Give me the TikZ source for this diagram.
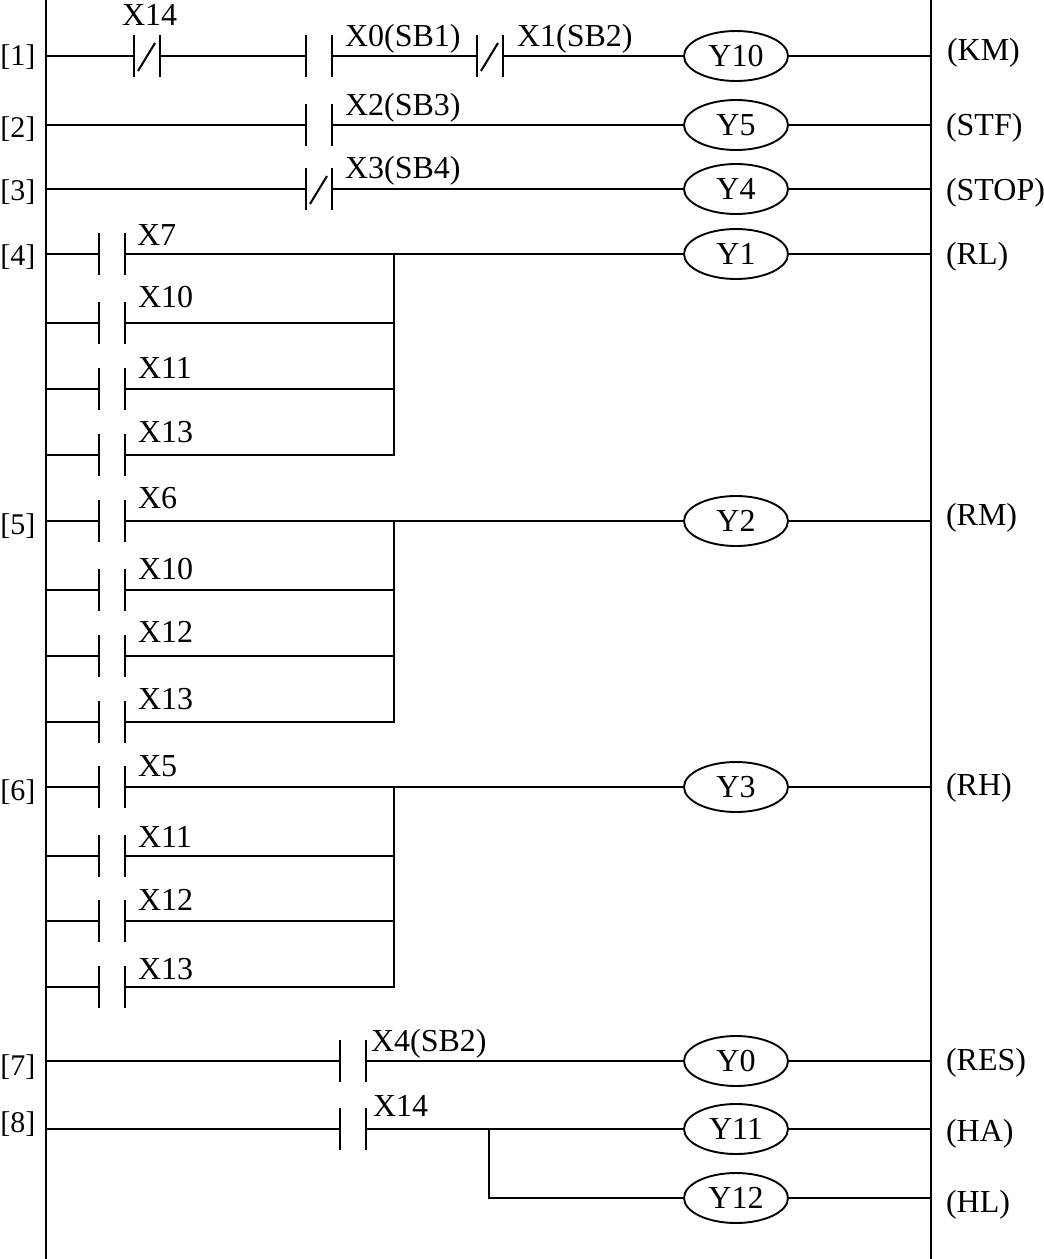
\documentclass[tikz,border=0pt]{standalone}
\usepackage{fontspec}
\setmainfont{Liberation Serif}
\usetikzlibrary{shapes.geometric}
\tikzset{
  wire/.style={line width=1.7pt,line cap=butt},
  rail/.style={line width=2.2pt},
  plate/.style={line width=1.7pt},
  coil/.style={draw,ellipse,line width=1.9pt,minimum width=104pt,minimum height=50pt,inner sep=0pt,outer sep=0pt,fill=white},
  lab/.style={anchor=base west,inner sep=0pt,outer sep=0pt},
  rung/.style={lab,font=\fontsize{30}{30}\selectfont},
}
\newcommand{\contactno}[3]{%
  \coordinate (#1-a) at (#2,#3);
  \coordinate (#1-b) at (#2+26,#3);
  \draw[plate] (#2,#3-21) -- (#2,#3+21);
  \draw[plate] (#2+26,#3-21) -- (#2+26,#3+21);
}
\newcommand{\contactnc}[3]{%
  \contactno{#1}{#2}{#3}
  \draw[line width=2pt] (#2+4,#3+15) -- (#2+21,#3-13);
}
\begin{document}
\begin{tikzpicture}[x=1pt,y=-1pt,font=\fontsize{32}{32}\selectfont]
\useasboundingbox (0,0) rectangle (1044,1259);
\fill[white] (0,0) rectangle (1044,1259);
% rails
\coordinate (LT) at (46,0); \coordinate (LB) at (46,1259);
\coordinate (RT) at (931,0); \coordinate (RB) at (931,1259);
\draw[rail] (LT) -- (LB);
\draw[rail] (RT) -- (RB);
% single-contact rungs and coils
\foreach \n/\y/\t in {Y10/56/Y10,Y5/125/Y5,Y4/189/Y4,Y1/254/Y1,Y2/521/Y2,Y3/787/Y3,Y0/1061/Y0,Y11/1129/Y11,Y12/1198/Y12}{
  \node[coil] (\n) at (736,\y) {\t};
  \coordinate (L\n) at (46,\y);
  \coordinate (R\n) at (931,\y);
  \draw[wire] (\n.east) -- (R\n);
}
% rung 1
\contactnc{c1a}{134}{56}
\contactno{c1b}{306}{56}
\contactnc{c1c}{477}{56}
\draw[wire] (LY10) -- (c1a-a);
\draw[wire] (c1a-b) -- (c1b-a);
\draw[wire] (c1b-b) -- (c1c-a);
\draw[wire] (c1c-b) -- (Y10.west);
% rung 2
\contactno{c2}{306}{125}
\draw[wire] (LY5) -- (c2-a);
\draw[wire] (c2-b) -- (Y5.west);
% rung 3
\contactnc{c3}{306}{189}
\draw[wire] (LY4) -- (c3-a);
\draw[wire] (c3-b) -- (Y4.west);
% parallel groups
\foreach \g/\coil/\ya/\yb/\yc/\yd in {p/Y1/254/323/389/455,q/Y2/521/590/656/722,r/Y3/787/856/921/987}{
  \coordinate (\g-j) at (394,\ya);
  \coordinate (\g-k) at (394,\yd);
  \foreach \i/\y in {1/\ya,2/\yb,3/\yc,4/\yd}{
    \contactno{\g\i}{99}{\y}
    \coordinate (\g\i-l) at (46,\y);
    \coordinate (\g\i-j) at (394,\y);
    \draw[wire] (\g\i-l) -- (\g\i-a);
    \draw[wire] (\g\i-b) -- (\g\i-j);
  }
  \draw[wire] (\g-j) -- (\coil.west);
  \draw[wire,line cap=rect] (\g-j) -- (\g-k);
}
% rung 7
\contactno{c7}{340}{1061}
\draw[wire] (LY0) -- (c7-a);
\draw[wire] (c7-b) -- (Y0.west);
% rung 8
\contactno{c8}{340}{1129}
\coordinate (br) at (489,1129);
\coordinate (bs) at (489,1198);
\draw[wire] (LY11) -- (c8-a);
\draw[wire] (c8-b) -- (Y11.west);
\draw[wire] (br) -- (bs) -- (Y12.west);
% contact labels
\foreach \n/\x/\y/\t in {
 a1/122/25/X14, a2/345/46/X0(SB1), a3/517/46/X1(SB2), a4/345/115/X2(SB3), a5/345/178/X3(SB4),
 a6/137/245/X7, a7/138/307/X10, a8/138/378/X11, a9/138/442/X13,
 a10/138/508/X6, a11/138/579/X10, a12/138/642/X12, a13/138/709/X13,
 a14/138/776/X5, a15/138/847/X11, a16/138/910/X12, a17/138/979/X13,
 a18/371/1051/X4(SB2), a19/373/1116/X14,
 d1/947/60/(KM), d2/946/135/(STF), d3/946/200/(STOP), d4/946/264/(RL),
 d5/946/525/(RM), d6/946/795/(RH), d7/946/1070/(RES), d8/946/1141/(HA), d9/946/1212/(HL)}{
  \node[lab] (\n) at (\x,\y) {\t};
}
% rung numbers
\foreach \n/\y/\t in {b1/65/{[1]}, b2/137/{[2]}, b3/200/{[3]}, b4/265/{[4]},
 b5/534/{[5]}, b6/800/{[6]}, b7/1075/{[7]}, b8/1132/{[8]}}{
  \node[rung] (\n) at (0.5,\y) {\t};
}
\end{tikzpicture}
\end{document}
